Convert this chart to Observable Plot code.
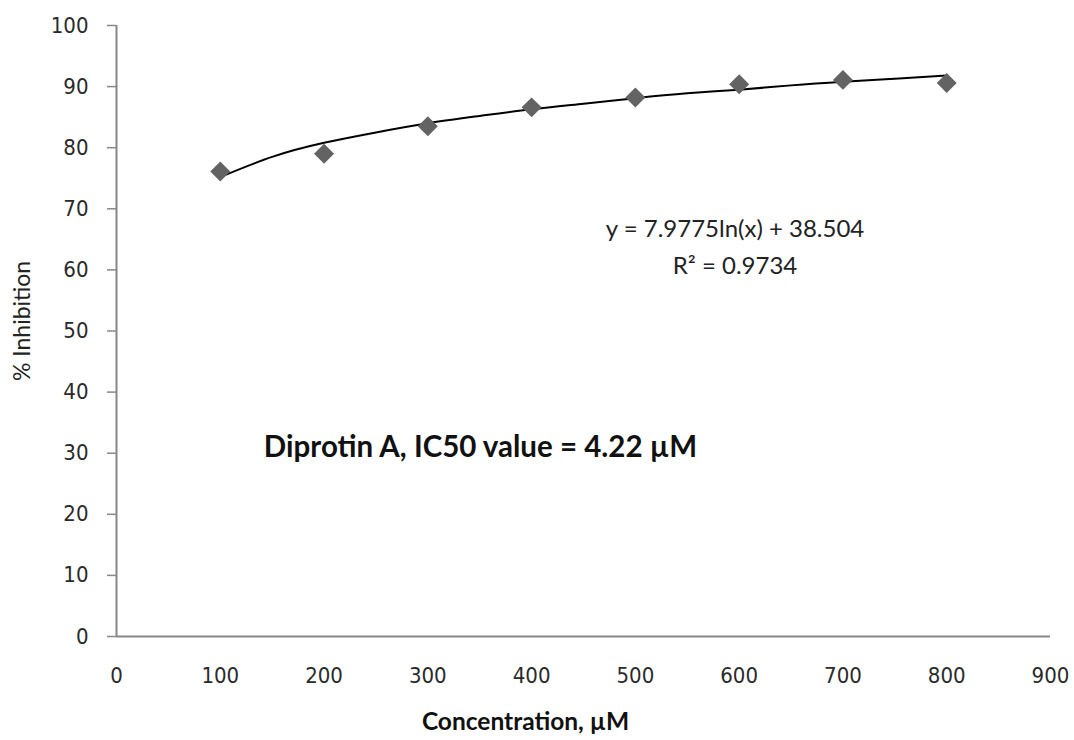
<!DOCTYPE html>
<html>
<head>
<meta charset="utf-8">
<script src="https://cdn.jsdelivr.net/npm/d3@7"></script>
<script src="https://cdn.jsdelivr.net/npm/@observablehq/plot@0.6"></script>
<style>
  html, body { margin: 0; padding: 0; background: #fff; }
</style>
</head>
<body>
<div id="chart"></div>
<script>
// Measured points
const concentrations = [100, 200, 300, 400, 500, 600, 700, 800];
const inhibition = [76.1, 79.0, 83.5, 86.6, 88.2, 90.4, 91.1, 90.6];

// Logarithmic trendline
const trendX = [100, 150, 200, 250, 300, 350, 400, 450, 500, 550, 600, 650, 700, 750, 800];
const trendY = [75.2, 78.5, 80.8, 82.5, 84.0, 85.2, 86.3, 87.2, 88.1, 88.9, 89.5, 90.2, 90.8, 91.3, 91.8];

const xTicks = [0, 100, 200, 300, 400, 500, 600, 700, 800, 900];
const yTicks = [0, 10, 20, 30, 40, 50, 60, 70, 80, 90, 100];

const equationText = "y = 7.9775ln(x) + 38.504\nR\u00B2 = 0.9734";
const noteText = "Diprotin A, IC50 value = 4.22 \u00B5M";
const xLabel = "Concentration, \u00B5M";
const yLabel = "% Inhibition";

const points = concentrations.map((c, i) => ({x: c, y: inhibition[i]}));
const trend = trendX.map((c, i) => ({x: c, y: trendY[i]}));

const axisColor = "#878787";

const chart = Plot.plot({
  width: 1074,
  height: 740,
  marginLeft: 116,
  marginRight: 24,
  marginTop: 25,
  marginBottom: 104,
  style: {fontFamily: "'DejaVu Sans Condensed', 'DejaVu Sans', sans-serif", fontSize: "22px", color: "#2a2a2a", background: "#fff"},
  x: {domain: [0, 900]},
  y: {domain: [0, 100]},
  marks: [
    Plot.axisY(yTicks, {tickSize: 9, tickPadding: 19, stroke: axisColor, strokeWidth: 1.5, label: null, fontSize: 22}),
    Plot.axisX(xTicks, {tickSize: 0, tickPadding: 31, label: null, fontSize: 22}),
    Plot.ruleX([0], {stroke: axisColor, strokeWidth: 2}),
    Plot.ruleY([0], {stroke: axisColor, strokeWidth: 2}),
    Plot.line(trend, {x: "x", y: "y", curve: "natural", stroke: "#000", strokeWidth: 2}),
    Plot.dot(points, {x: "x", y: "y", symbol: "diamond2", r: 9, fill: "#636363", stroke: "none"}),
    Plot.text([equationText], {x: 596, y: 64.3, text: d => d, textAnchor: "middle", lineHeight: 1.55, fontFamily: "Lato, sans-serif", fontSize: 24, fill: "#222"}),
    Plot.text([noteText], {x: 350.7, y: 31, text: d => d, textAnchor: "middle", fontFamily: "Lato, sans-serif", fontWeight: "bold", fontSize: 29.5, fill: "#111"}),
    Plot.text([xLabel], {frameAnchor: "bottom", lineAnchor: "middle", textAnchor: "middle", dx: -58, dy: 86, text: d => d, fontFamily: "Lato, sans-serif", fontWeight: "bold", fontSize: 24.5, fill: "#111"}),
    Plot.text([yLabel], {frameAnchor: "left", textAnchor: "middle", lineAnchor: "middle", dx: -94, dy: -10, rotate: -90, text: d => d, fontFamily: "Lato, sans-serif", fontSize: 23, fill: "#222"})
  ]
});

document.getElementById("chart").appendChild(chart);
</script>
</body>
</html>
